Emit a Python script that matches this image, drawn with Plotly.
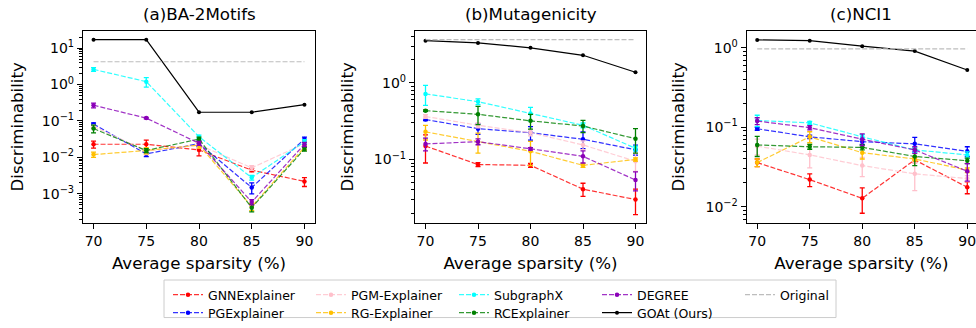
import plotly.graph_objects as go

sparsity = [70, 75, 80, 85, 90]
dataset_titles = ["(a)BA-2Motifs", "(b)Mutagenicity", "(c)NCI1"]
methods = ["GNNExplainer", "PGExplainer", "PGM-Explainer", "RG-Explainer",
           "SubgraphX", "RCExplainer", "DEGREE"]
method_colors = ["#ff0000", "#0000ff", "#ffc0cb", "#ffbf00",
                 "#00ffff", "#008000", "#8a00b8"]

# (a) BA-2Motifs
ba_mean = {
    "GNNExplainer": [0.023, 0.023, 0.016, 0.0045, 0.0022],
    "PGExplainer": [0.082, 0.0125, 0.024, 0.0015, 0.032],
    "PGM-Explainer": [0.071, 0.015, 0.022, 0.0052, 0.024],
    "RG-Explainer": [0.012, 0.0155, 0.022, 0.00045, 0.019],
    "SubgraphX": [2.6, 1.2, 0.037, 0.0028, 0.027],
    "RCExplainer": [0.062, 0.0155, 0.032, 0.00042, 0.017],
    "DEGREE": [0.27, 0.12, 0.0245, 0.0006, 0.023],
}
ba_err = {
    "GNNExplainer": [0.005, 0.007, 0.005, 0.0005, 0.0006],
    "PGExplainer": [0.006, 0.002, 0.004, 0.0005, 0.004],
    "PGM-Explainer": [0.005, 0.003, 0.004, 0.0008, 0.004],
    "RG-Explainer": [0.002, 0.003, 0.004, 0.0001, 0.003],
    "SubgraphX": [0.3, 0.35, 0.004, 0.0004, 0.004],
    "RCExplainer": [0.015, 0.002, 0.004, 0.0001, 0.002],
    "DEGREE": [0.04, 0.006, 0.003, 0.0001, 0.003],
}
ba_goat = [17, 17, 0.174, 0.174, 0.28]
ba_original = 4.2

# (b) Mutagenicity
mut_mean = {
    "GNNExplainer": [0.15, 0.086, 0.084, 0.041, 0.030],
    "PGExplainer": [0.333, 0.253, 0.224, 0.184, 0.134],
    "PGM-Explainer": [0.365, 0.28, 0.224, 0.155, 0.095],
    "RG-Explainer": [0.23, 0.171, 0.128, 0.084, 0.1],
    "SubgraphX": [0.72, 0.57, 0.40, 0.28, 0.14],
    "RCExplainer": [0.435, 0.39, 0.32, 0.274, 0.187],
    "DEGREE": [0.16, 0.171, 0.138, 0.11, 0.054],
}
mut_err = {
    "GNNExplainer": [0.06, 0.005, 0.005, 0.008, 0.011],
    "PGExplainer": [0.01, 0.04, 0.045, 0.045, 0.02],
    "PGM-Explainer": [0.02, 0.02, 0.02, 0.02, 0.025],
    "RG-Explainer": [0.05, 0.05, 0.045, 0.005, 0.005],
    "SubgraphX": [0.21, 0.05, 0.08, 0.02, 0.01],
    "RCExplainer": [0.01, 0.105, 0.07, 0.05, 0.066],
    "DEGREE": [0.03, 0.015, 0.005, 0.02, 0.015],
}
mut_goat = [3.57, 3.34, 2.88, 2.3, 1.38]
mut_original = 3.68

# (c) NCI1
nci_mean = {
    "GNNExplainer": [0.036, 0.022, 0.0128, 0.039, 0.0176],
    "PGExplainer": [0.096, 0.076, 0.066, 0.062, 0.05],
    "PGM-Explainer": [0.058, 0.045, 0.033, 0.026, 0.0227],
    "RG-Explainer": [0.036, 0.076, 0.048, 0.04, 0.029],
    "SubgraphX": [0.122, 0.114, 0.076, 0.052, 0.045],
    "RCExplainer": [0.06, 0.057, 0.056, 0.043, 0.038],
    "DEGREE": [0.12, 0.099, 0.071, 0.052, 0.028],
}
nci_err = {
    "GNNExplainer": [0.004, 0.004, 0.0045, 0.003, 0.003],
    "PGExplainer": [0.004, 0.004, 0.005, 0.013, 0.007],
    "PGM-Explainer": [0.013, 0.014, 0.009, 0.01, 0.002],
    "RG-Explainer": [0.004, 0.012, 0.008, 0.002, 0.002],
    "SubgraphX": [0.02, 0.005, 0.005, 0.004, 0.004],
    "RCExplainer": [0.017, 0.004, 0.004, 0.01, 0.003],
    "DEGREE": [0.012, 0.006, 0.012, 0.005, 0.007],
}
nci_goat = [1.26, 1.23, 1.05, 0.91, 0.526]
nci_original = 0.97

# decade exponents labelled on each y axis
y_tick_exponents = [[-3, -2, -1, 0, 1], [-1, 0], [-2, -1, 0]]
y_ranges = [[-3.79, 1.47], [-1.826, 0.68], [-2.2, 0.213]]

W, H = 976, 328
FONT = "DejaVu Sans"
x_domains = [[83 / W, 315 / W], [415 / W, 646 / W], [746.7 / W, 1.0]]
x_ranges = [[69, 91], [69, 91], [69, 90.83]]
y_domain = [1 - 228.3 / H, 1 - 31.7 / H]
y_title_standoff = [13, 15, 16]

row1 = {"GNNExplainer", "PGM-Explainer", "SubgraphX", "DEGREE"}


def rgba(hexc, a):
    h = hexc.lstrip("#")
    return "rgba(%d,%d,%d,%.2f)" % (int(h[0:2], 16), int(h[2:4], 16), int(h[4:6], 16), a)


def pow_label(k):
    s = str(k).replace("-", "\u2212")
    return "10<sup>%s</sup>" % s


fig = go.Figure()
panels = [(ba_mean, ba_err, ba_goat, ba_original),
          (mut_mean, mut_err, mut_goat, mut_original),
          (nci_mean, nci_err, nci_goat, nci_original)]

for i, (means, errs, goat, original) in enumerate(panels):
    xa = "x" if i == 0 else "x%d" % (i + 1)
    ya = "y" if i == 0 else "y%d" % (i + 1)
    for m, c in zip(methods, method_colors):
        fig.add_trace(go.Scatter(
            x=sparsity, y=means[m], name=m, mode="lines+markers",
            line=dict(color=rgba(c, 0.8), width=1.2, dash="5px,2px"),
            marker=dict(color=c, size=4.5, symbol="circle"),
            error_y=dict(type="data", array=errs[m], color=c, thickness=1.3, width=2.5),
            xaxis=xa, yaxis=ya, showlegend=(i == 0),
            legend="legend" if m in row1 else "legend2",
        ))
    fig.add_trace(go.Scatter(
        x=sparsity, y=goat, name="GOAt (Ours)", mode="lines+markers",
        line=dict(color="black", width=1.2),
        marker=dict(color="black", size=4),
        xaxis=xa, yaxis=ya, showlegend=(i == 0), legend="legend2",
    ))
    fig.add_trace(go.Scatter(
        x=sparsity, y=[original] * len(sparsity), name="Original", mode="lines",
        line=dict(color="#bdbdbd", width=1.1, dash="5px,2px"),
        xaxis=xa, yaxis=ya, showlegend=(i == 0), legend="legend",
    ))

axis_common = dict(showline=True, linecolor="black", linewidth=1.2, mirror=True,
                   showgrid=False, zeroline=False, ticks="outside", ticklen=5,
                   tickwidth=1, tickcolor="black", ticklabeloverflow="allow",
                   tickfont=dict(family=FONT, size=14, color="black"))

layout = dict(
    width=W, height=H, margin=dict(l=0, r=0, t=0, b=0),
    plot_bgcolor="white", paper_bgcolor="white",
    font=dict(family=FONT, color="black"),
)
annotations = []
for i in range(3):
    sx = "" if i == 0 else str(i + 1)
    exps = y_tick_exponents[i]
    lo, hi = y_ranges[i]
    minor_vals = [d * 10 ** k for k in range(int(lo) - 1, int(hi) + 2)
                  for d in range(2, 10)]
    layout["xaxis" + sx] = dict(
        axis_common, domain=x_domains[i], range=x_ranges[i], anchor="y" + sx,
        tickvals=sparsity,
        title=dict(text="Average sparsity (%)", font=dict(family=FONT, size=16.7), standoff=9),
    )
    layout["yaxis" + sx] = dict(
        axis_common, domain=y_domain, type="log", range=y_ranges[i], anchor="x" + sx,
        tickmode="array", tickvals=[10 ** k for k in exps],
        ticktext=[pow_label(k) for k in exps],
        minor=dict(ticks="outside", ticklen=2.5, tickcolor="black", tickmode="array",
                   tickvals=minor_vals, showgrid=False),
        title=dict(text="Discriminability", font=dict(family=FONT, size=16.7),
                   standoff=y_title_standoff[i]),
    )
    annotations.append(dict(
        text=dataset_titles[i], x=sum(x_domains[i]) / 2, y=1 - 14.5 / H,
        xref="paper", yref="paper", xanchor="center", yanchor="middle",
        showarrow=False, font=dict(family=FONT, size=16.7, color="black"),
    ))

layout["annotations"] = annotations
legend_common = dict(orientation="h", xanchor="left", yanchor="top",
                     font=dict(family=FONT, size=12.5, color="black"),
                     bgcolor="rgba(0,0,0,0)", borderwidth=0, entrywidth=98,
                     itemwidth=30, tracegroupgap=0)
layout["legend"] = dict(legend_common, x=168 / W, y=1 - 287 / H)
layout["legend2"] = dict(legend_common, x=168 / W, y=1 - 305.8 / H)
layout["shapes"] = [dict(type="rect", xref="paper", yref="paper",
                         x0=164 / W, x1=836 / W, y0=1 - 325.5 / H, y1=1 - 287 / H,
                         line=dict(color="#cccccc", width=1), fillcolor="rgba(0,0,0,0)")]
fig.update_layout(**layout)
fig.write_html("out.html", config={"displayModeBar": False},
               post_script="document.body.style.margin='0';")
